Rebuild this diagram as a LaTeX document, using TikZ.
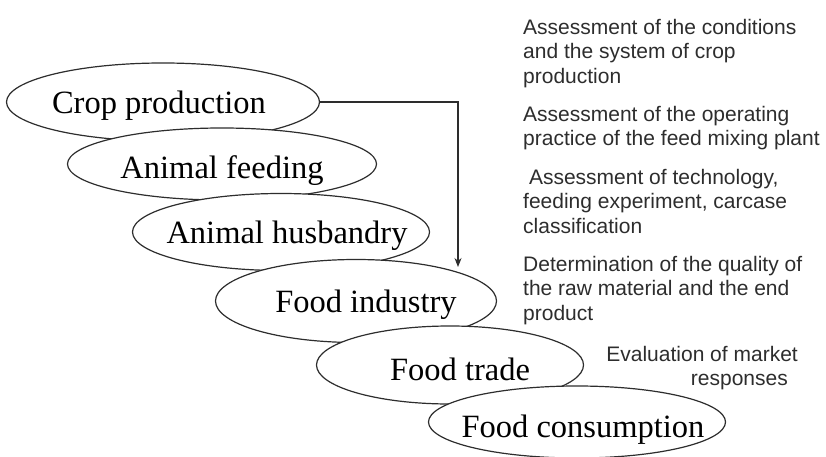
\documentclass[tikz,border=0pt]{standalone}
\usepackage{fontspec}
\setmainfont{Liberation Serif}
\setsansfont{Liberation Sans}
\usetikzlibrary{arrows.meta,positioning,shapes.geometric}
\definecolor{inkgray}{RGB}{45,45,45}

\begin{document}
\begin{tikzpicture}[
    x=1pt,y=-1pt,
    stage/.style={ellipse,draw=inkgray,line width=1.2pt,fill=white,inner sep=0pt},
    stagetext/.style={font=\fontsize{32.5}{36}\selectfont,text=black,yshift=-4pt},
    note/.style={anchor=north west,inner sep=0pt,align=left,
                 font=\sffamily\fontsize{21}{24.5}\selectfont,text=inkgray},
    arrow/.style={-{Stealth[length=9pt,width=7pt]},line width=1.2pt,inkgray}
  ]
    \useasboundingbox (0,0) rectangle (826,457);
    % chain of stages, each one drawn over the previous
    \node[stage,minimum width=313pt,minimum height=78pt,
          label={[stagetext,xshift=-4pt]center:Crop production}] (crop) at (163,102) {};
    \node[stage,minimum width=309pt,minimum height=72pt,
          label={[stagetext,yshift=-3pt]center:Animal feeding}] (feed) at (222,164) {};
    \node[stage,minimum width=297pt,minimum height=77pt,
          label={[stagetext,xshift=6pt]center:Animal husbandry}] (husb) at (281,232) {};
    \node[stage,minimum width=281pt,minimum height=83pt,
          label={[stagetext,xshift=10pt]center:Food industry}] (ind) at (356,301) {};
    \node[stage,minimum width=267pt,minimum height=78pt,
          label={[stagetext,xshift=10pt]center:Food trade}] (trade) at (450,365) {};
    \node[stage,minimum width=297pt,minimum height=72pt,
          label={[stagetext,xshift=6pt,yshift=-4pt]center:Food consumption}] (cons) at (577,422) {};
    \coordinate (drop) at (458,267);
    \draw[arrow] (crop.east) -| (drop);
    % assessment notes
    \node[note] (ncrop) at (523,19) {Assessment of the conditions\\and the system of crop\\production};
    \node[note] (nfeed) at (523,106) {Assessment of the operating\\practice of the feed mixing plant};
    \node[note] (nhusb) at (523,169) {\ Assessment of technology,\\feeding experiment, carcase\\classification};
    \node[note] (nind)  at (523,256) {Determination of the quality of\\the raw material and the end\\product};
    \node[note,anchor=north east,align=right] (ntrade) at (798,346) {Evaluation of market\\responses\hspace*{10pt}};
  \end{tikzpicture}
\end{document}
